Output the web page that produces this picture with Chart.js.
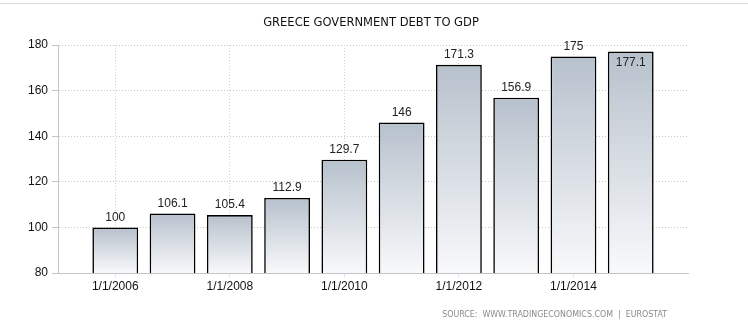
<!DOCTYPE html>
<html>
<head>
<meta charset="utf-8">
<script src="https://cdn.jsdelivr.net/npm/chart.js@4"></script>
<style>
    body { margin: 0; background: #fff; }
    #wrap { position: relative; width: 748px; height: 324px; }
    #topline { position: absolute; left: 0; top: 3px; width: 748px; height: 1px; background: #dcdcdc; }
    #title {
        position: absolute; left: 251px; width: 240px; top: 14px; text-align: center;
        font-family: 'DejaVu Sans Condensed', 'DejaVu Sans', sans-serif; font-size: 12.8px; color: #111;
        white-space: nowrap;
    }
    #source {
        position: absolute; right: 81px; top: 309px;
        font-family: 'DejaVu Sans Condensed', 'DejaVu Sans', sans-serif; font-size: 8.8px; color: #8a8a8a;
        white-space: pre;
    }
</style>
</head>
<body>
<div id="wrap">
    <div id="topline"></div>
    <div id="title">GREECE GOVERNMENT DEBT TO GDP</div>
    <canvas id="debt-gdp"></canvas>
    <div id="source">SOURCE:  WWW.TRADINGECONOMICS.COM  |  EUROSTAT</div>
</div>
<script>
const years = [2006, 2007, 2008, 2009, 2010, 2011, 2012, 2013, 2014, 2015];
const debtValues = [100, 106.1, 105.4, 112.9, 129.7, 146, 171.3, 156.9, 175, 177.1];
const xTickYears = [2006, 2008, 2010, 2012, 2014];
const yTicks = [80, 100, 120, 140, 160, 180];

const points = years.map((y, i) => ({ x: y, y: debtValues[i] }));

// gradient per bar, darker at its top, almost white at the axis
const barGradient = (context) => {
    const chart = context.chart;
    const yScale = chart.scales.y;
    if (!yScale || !chart.chartArea) return '#c8d0d8';
    const v = debtValues[context.dataIndex];
    const top = yScale.getPixelForValue(v);
    const bottom = yScale.getPixelForValue(yTicks[0]);
    const g = chart.ctx.createLinearGradient(0, top, 0, bottom);
    g.addColorStop(0, '#b7c1cc');
    g.addColorStop(1, '#f8f9fb');
    return g;
};

const valueLabels = {
    id: 'valueLabels',
    afterDatasetsDraw(chart) {
        const ctx = chart.ctx;
        const meta = chart.getDatasetMeta(0);
        ctx.save();
        ctx.font = '12px "Liberation Sans", Arial, sans-serif';
        ctx.fillStyle = '#222';
        ctx.textAlign = 'center';
        meta.data.forEach((bar, i) => {
            const text = String(debtValues[i]);
            if (bar.y - 15 < chart.chartArea.top - 6) {
                ctx.textBaseline = 'top';
                ctx.fillText(text, bar.x, bar.y + 5);
            } else {
                ctx.textBaseline = 'bottom';
                ctx.fillText(text, bar.x, bar.y - 4);
            }
        });
        ctx.restore();
    }
};

const chartConfig = {
    type: 'bar',
    data: {
        datasets: [{
            label: 'Greece Government Debt to GDP',
            data: points,
            backgroundColor: barGradient,
            borderColor: '#000',
            borderWidth: 1.6,
            borderSkipped: 'bottom',
            categoryPercentage: 0.8,
            barPercentage: 1
        }]
    },
    options: {
        responsive: true,
        maintainAspectRatio: false,
        animation: false,
        layout: { padding: { left: 0, right: 60, top: 45, bottom: 21 } },
        plugins: {
            legend: { display: false },
            tooltip: { enabled: false },
            title: { display: false }
        },
        scales: {
            x: {
                type: 'linear',
                min: 2005,
                max: 2016,
                offset: false,
                afterBuildTicks: scale => { scale.ticks = xTickYears.map(v => ({ value: v })); },
                afterFit: scale => { scale.height = 30; },
                ticks: {
                    color: '#111',
                    font: { family: '"Liberation Sans", Arial, sans-serif', size: 12 },
                    padding: 2,
                    maxRotation: 0,
                    callback: v => '1/1/' + v
                },
                grid: { offset: false, color: '#cfcfcf', tickColor: '#d8e4ea', tickLength: 4 },
                border: { display: true, color: '#c4c4cc', width: 1, dash: [1, 2] }
            },
            y: {
                min: 80,
                max: 180,
                afterBuildTicks: scale => { scale.ticks = yTicks.map(v => ({ value: v })); },
                afterFit: scale => { scale.width = 58; },
                ticks: {
                    color: '#111',
                    font: { family: '"Liberation Sans", Arial, sans-serif', size: 12 },
                    padding: 4
                },
                grid: { color: '#c8c8c8', tickColor: '#c4c4cc', tickLength: 6 },
                border: { display: true, color: '#c4c4cc', width: 1, dash: [1, 2] }
            }
        }
    },
    plugins: [valueLabels]
};

const ctx = document.getElementById('debt-gdp').getContext('2d');
new Chart(ctx, chartConfig);
</script>
</body>
</html>
